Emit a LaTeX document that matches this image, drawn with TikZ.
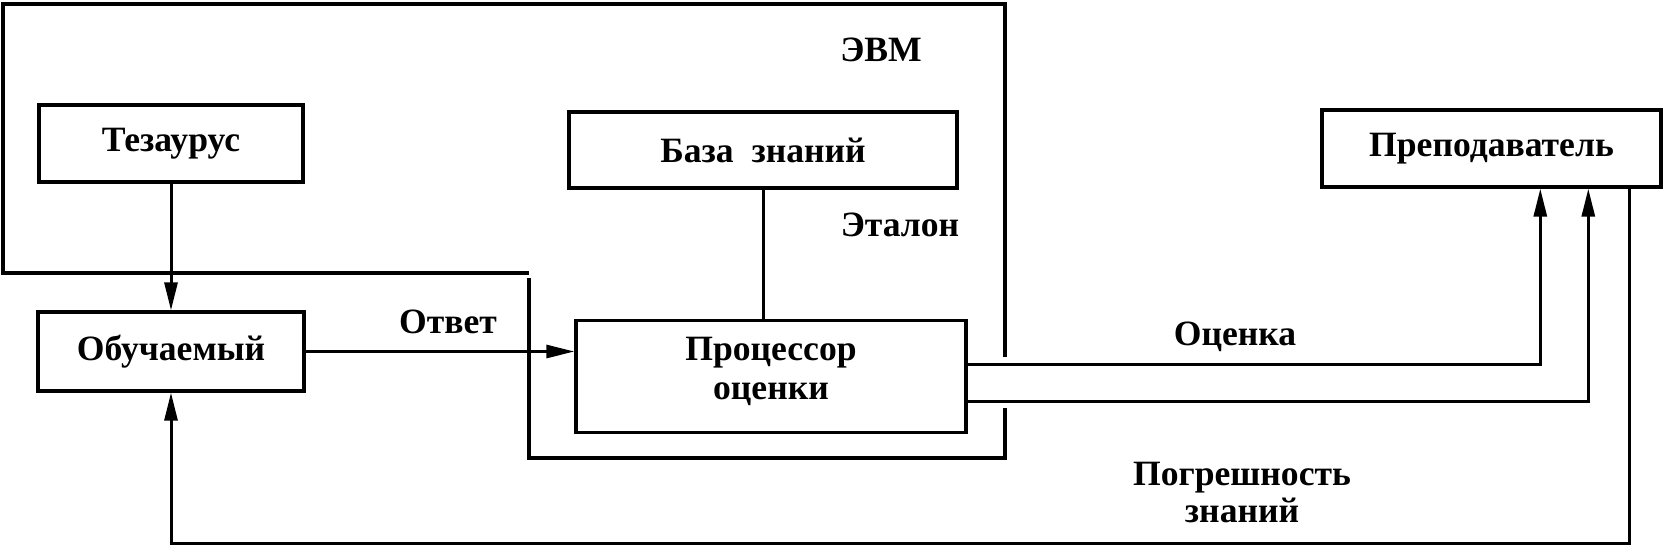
\documentclass[tikz,border=0pt]{standalone}
\usepackage{fontspec}
\setmainfont{Liberation Serif}
\usetikzlibrary{arrows.meta,calc}
\begin{document}
\begin{tikzpicture}[x=0.5pt,y=-0.5pt,
  box/.style={draw,line width=1.7pt,inner sep=0pt,align=center,
    font=\bfseries\fontsize{17.8}{18}\selectfont},
  lbl/.style={inner sep=0pt,align=center,font=\bfseries\fontsize{17.8}{18.5}\selectfont},
  conn/.style={line width=1.5pt},
  arr/.style={-{Triangle[length=14pt,width=6.5pt]}},
  frame/.style={line width=1.6pt}]
\useasboundingbox (0,0) rectangle (1666,548);
% computer frame
\draw[frame] (1005,357) -- (1005,4) -- (3,4) -- (3,273) -- (529,273);
\draw[frame] (529,278) -- (529,458) -- (1005,458) -- (1005,408);
% boxes
\node[box,minimum width=132pt,minimum height=38.5pt] (tez) at (171,143.5) {Тезаурус};
\node[box,minimum width=194pt,minimum height=38pt] (baza) at (763,150) {База\ \ знаний};
\node[box,minimum width=133pt,minimum height=39.5pt] (obuch) at (171,351.5) {Обучаемый};
\node[box,minimum width=195pt,minimum height=56pt,
  label={[lbl,font=\bfseries\fontsize{17.8}{19.5}\selectfont,yshift=2.5pt]center:{Процессор\\оценки}}]
  (proc) at (771,376.5) {};
\node[box,minimum width=169.5pt,minimum height=38.5pt] (prep) at (1491.5,148.5) {Преподаватель};
% labels
\node[lbl] (evm) at (881,50) {ЭВМ};
\node[lbl] (etalon) at (900,225) {Эталон};
\node[lbl] (otvet) at (448,322) {Ответ};
\node[lbl] (ocenka) at (1235,337) {Оценка};
\node[lbl] (pogr) at (1242,493) {Погрешность\\знаний};
% connectors
\coordinate (a1) at ($(prep.south west)+(220,0)$);
\coordinate (a2) at ($(prep.south west)+(268,0)$);
\coordinate (a3) at ($(prep.south west)+(309,0)$);
\coordinate (low) at (0,543);
\draw[conn,arr] (tez.south) -- (tez.south |- obuch.north);
\draw[conn] (baza.south) -- (baza.south |- proc.north);
\draw[conn,arr] (obuch.east) -- (obuch.east -| proc.west);
\draw[conn,arr] ($(proc.east)+(0,-12.5)$) -| (a1);
\draw[conn,arr] ($(proc.east)+(0,24.5)$) -| (a2);
\draw[conn,arr] (a3) |- (obuch.south |- low) -- (obuch.south);
\end{tikzpicture}
\end{document}
